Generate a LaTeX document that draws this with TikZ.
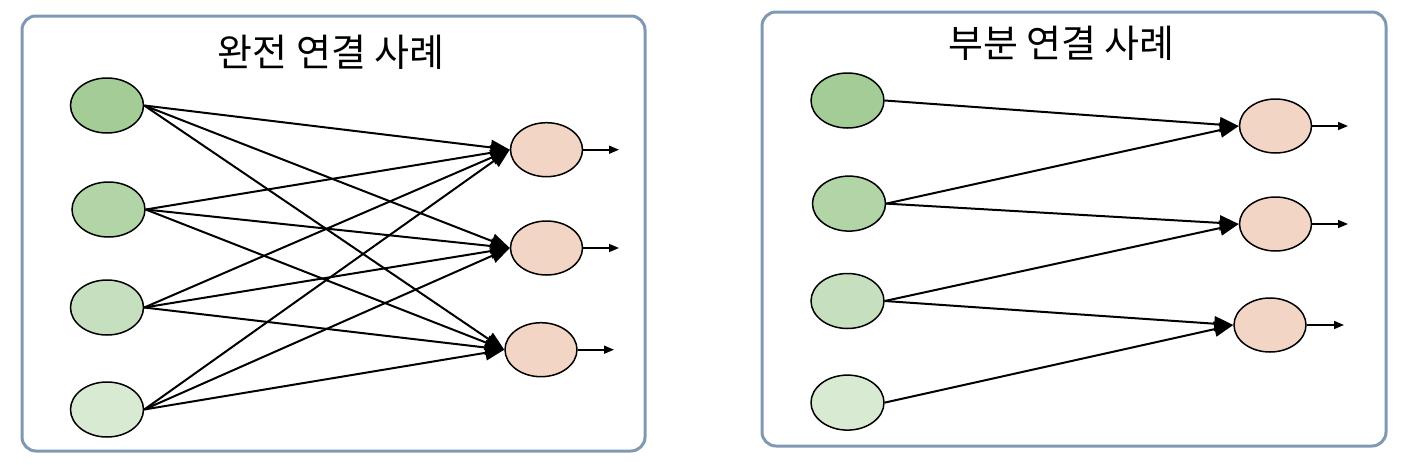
\documentclass[tikz,border=0pt]{standalone}
\usepackage{fontspec}
\newfontfamily\kr{Noto Sans CJK KR}
\usetikzlibrary{shapes.geometric,arrows.meta}
\definecolor{boxline}{HTML}{7F99B3}
\definecolor{gA}{HTML}{A3CC97}
\definecolor{gB}{HTML}{B2D5A8}
\definecolor{gC}{HTML}{C6DFBE}
\definecolor{gD}{HTML}{D9EAD3}
\definecolor{oran}{HTML}{F3D5C6}
\tikzset{
  panel/.style={draw=boxline,line width=3pt,rounded corners=14pt,fill=white},
  neuron/.style={ellipse,draw=black,line width=1.5pt,minimum width=73pt,minimum height=55pt,inner sep=0pt},
  conn/.style={line width=2pt,-{Triangle[length=19pt,width=15pt]}},
  outarrow/.style={line width=1.6pt,-{Triangle[length=10pt,width=8pt]}},
  title/.style={font=\kr\fontsize{38pt}{42pt}\selectfont,inner sep=0pt}
}
\begin{document}
\begin{tikzpicture}[x=1pt,y=-1pt]
\useasboundingbox (0,0) rectangle (1414,464);
% panels
\draw[panel] (22,16) rectangle (645,451);
\draw[panel] (762,12) rectangle (1386,446);
% titles
\node[title] (t1) at (331,52) {완전 연결 사례};
\node[title] (t2) at (1061.5,43.5) {부분 연결 사례};
% left panel
\node[neuron,fill=gA] (a1) at (107,105.5) {};
\node[neuron,fill=gB] (a2) at (108.5,209.5) {};
\node[neuron,fill=gC] (a3) at (107,307.5) {};
\node[neuron,fill=gD] (a4) at (107,409.5) {};
\node[neuron,fill=oran,minimum width=72pt,minimum height=54pt] (b1) at (546.5,149.7) {};
\node[neuron,fill=oran,minimum width=72pt,minimum height=54pt] (b2) at (546.5,248) {};
\node[neuron,fill=oran,minimum width=72pt,minimum height=54pt] (b3) at (541,349.7) {};
\foreach \i in {1,2,3,4}{
  \foreach \j in {1,2,3}{
    \draw[conn] (a\i.east) -- (b\j.west);
  }
}
\coordinate (e1) at (619,153);
\coordinate (e2) at (619,248);
\coordinate (e3) at (614,351.5);
\draw[outarrow] (b1.east) -- (e1 |- b1.east);
\draw[outarrow] (b2.east) -- (e2 |- b2.east);
\draw[outarrow] (b3.east) -- (e3 |- b3.east);
% right panel
\node[neuron,fill=gA] (c1) at (847.5,100.5) {};
\node[neuron,fill=gB] (c2) at (849,203.6) {};
\node[neuron,fill=gC] (c3) at (847.5,301) {};
\node[neuron,fill=gD] (c4) at (847.5,402.6) {};
\node[neuron,fill=oran,minimum width=72pt,minimum height=54pt] (d1) at (1275.5,126) {};
\node[neuron,fill=oran,minimum width=72pt,minimum height=54pt] (d2) at (1275.5,224) {};
\node[neuron,fill=oran,minimum width=72pt,minimum height=54pt] (d3) at (1270,325) {};
\draw[conn] (c1.east) -- (d1.west);
\draw[conn] (c2.east) -- (d1.west);
\draw[conn] (c2.east) -- (d2.west);
\draw[conn] (c3.east) -- (d2.west);
\draw[conn] (c3.east) -- (d3.west);
\draw[conn] (c4.east) -- (d3.west);
\coordinate (f1) at (1348,126);
\coordinate (f2) at (1348,224);
\coordinate (f3) at (1344,325);
\draw[outarrow] (d1.east) -- (f1 |- d1.east);
\draw[outarrow] (d2.east) -- (f2 |- d2.east);
\draw[outarrow] (d3.east) -- (f3 |- d3.east);
\end{tikzpicture}
\end{document}
